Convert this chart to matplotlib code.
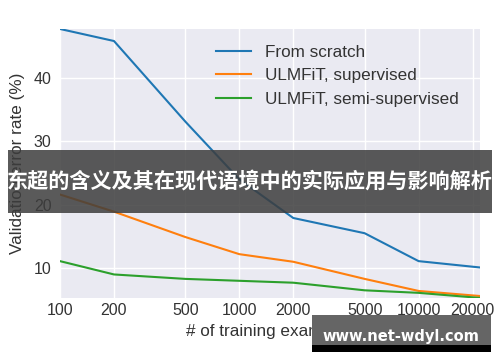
import matplotlib

matplotlib.use('Agg')

import matplotlib.pyplot as plt
from matplotlib.patches import Rectangle

# data
train_sizes = [100, 200, 500, 1000, 2000, 5000, 10000, 22000]
from_scratch = [47.7, 45.8, 33.1, 24.0, 17.9, 15.5, 11.1, 10.1]
ulmfit_sup = [21.6, 18.9, 14.9, 12.2, 11.0, 8.3, 6.4, 5.6]
ulmfit_semi = [11.1, 9.0, 8.3, 8.0, 7.7, 6.5, 6.1, 5.3]

series_names = ['From scratch', 'ULMFiT, supervised', 'ULMFiT, semi-supervised']
x_ticks = [100, 200, 500, 1000, 2000, 5000, 10000, 20000]
y_ticks = [10, 20, 30, 40]

banner_text = '东超的含义及其在现代语境中的实际应用与影响解析'
watermark_text = 'www.net-wdyl.com'

plt.rcParams['font.family'] = ['Liberation Sans', 'DejaVu Sans']

fig = plt.figure(figsize=(5, 3.62), dpi=100)
ax = fig.add_axes([0.12, 0.177, 0.84, 0.743])
ax.set_facecolor('#EAEAF2')
for s in ax.spines.values():
    s.set_visible(False)

# 三条曲线
ax.plot(train_sizes, from_scratch, color='#1f77b4', lw=1.5, label=series_names[0])
ax.plot(train_sizes, ulmfit_sup, color='#ff7f0e', lw=1.5, label=series_names[1])
ax.plot(train_sizes, ulmfit_semi, color='#2ca02c', lw=1.5, label=series_names[2])

ax.set_xscale('log')
ax.set_xlim(min(train_sizes), max(train_sizes))
all_y = from_scratch + ulmfit_sup + ulmfit_semi
ax.set_ylim(min(all_y), max(all_y))
ax.set_xticks(x_ticks)
ax.set_xticklabels([str(t) for t in x_ticks])
ax.xaxis.set_minor_locator(matplotlib.ticker.NullLocator())
ax.set_yticks(y_ticks)
ax.grid(True, color='white', lw=1.0)
ax.set_axisbelow(True)
ax.tick_params(axis='both', length=0, labelsize=11.5, colors='#333333')
ax.tick_params(axis='x', pad=4)
ax.tick_params(axis='y', pad=6)

ax.set_xlabel('# of training examples', fontsize=12.3, color='#333333', labelpad=4)
ax.set_ylabel('Validation error rate (%)', fontsize=12.3, color='#333333', labelpad=6)

leg = ax.legend(loc='upper right', frameon=False, fontsize=12.3,
                handlelength=2.05, handletextpad=0.8, labelspacing=0.5,
                bbox_to_anchor=(0.985, 0.998))
for t in leg.get_texts():
    t.set_color('#333333')

# 标题横幅
fig.patches.append(Rectangle((0.016, 0.4116), 0.968, 0.174, transform=fig.transFigure,
                             facecolor='#3d3d3d', alpha=0.85, edgecolor='none', zorder=5))
fig.text(0.5, 0.5, banner_text, ha='center', va='center', color='white',
         fontsize=15.2, fontweight='bold', family=['Noto Sans CJK SC', 'DejaVu Sans'], zorder=6)

# 水印
fig.patches.append(Rectangle((0.624, 0.028), 0.358, 0.02, transform=fig.transFigure,
                             facecolor='black', edgecolor='none', zorder=5))
fig.patches.append(Rectangle((0.624, 0.047), 0.358, 0.083, transform=fig.transFigure,
                             facecolor='#656565', edgecolor='none', zorder=5))
fig.text(0.801, 0.07, watermark_text, ha='center', va='center', color='white',
         fontsize=10.5, fontweight='bold', family=['DejaVu Sans'], zorder=6)

fig.savefig('out.png', dpi=100)
